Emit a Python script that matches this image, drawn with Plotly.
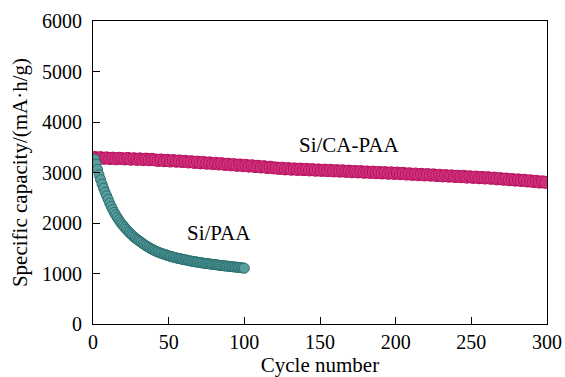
import plotly.graph_objects as go

# Si/CA-PAA: cycles 1,3,...,299
ca_cycles = list(range(1, 300, 2))
ca_capacity = [
    3300, 3285, 3295, 3280, 3290, 3275, 3285, 3270, 3282, 3276,
    3268, 3280, 3262, 3274, 3258, 3270, 3255, 3266, 3252, 3262,
    3250, 3238, 3248, 3232, 3242, 3226, 3238, 3222, 3230, 3216,
    3222, 3208, 3215, 3198, 3206, 3190, 3200, 3182, 3192, 3176,
    3184, 3168, 3176, 3158, 3166, 3150, 3158, 3140, 3150, 3134,
    3142, 3126, 3134, 3116, 3124, 3108, 3116, 3098, 3106, 3092,
    3090, 3080, 3086, 3070, 3078, 3064, 3072, 3060, 3068, 3056,
    3064, 3050, 3058, 3044, 3052, 3040, 3048, 3036, 3044, 3030,
    3038, 3026, 3034, 3020, 3028, 3014, 3022, 3010, 3018, 3004,
    3012, 3000, 3008, 2994, 3002, 2990, 2998, 2984, 2994, 2980,
    2990, 2976, 2984, 2968, 2976, 2962, 2970, 2956, 2964, 2950,
    2960, 2946, 2954, 2938, 2946, 2932, 2940, 2926, 2934, 2920,
    2928, 2916, 2924, 2908, 2916, 2902, 2910, 2896, 2904, 2890,
    2898, 2884, 2890, 2874, 2880, 2866, 2872, 2856, 2862, 2848,
    2854, 2840, 2846, 2830, 2836, 2820, 2826, 2810, 2816, 2804,
]

# Si/PAA: cycles 1..100
paa_cycles = list(range(1, 101))
paa_capacity = [
    3260, 3170, 3060, 2955, 2860, 2770, 2690, 2610, 2540, 2470,
    2395, 2330, 2270, 2210, 2160, 2110, 2065, 2020, 1980, 1945,
    1910, 1875, 1840, 1810, 1780, 1752, 1725, 1700, 1678, 1655,
    1635, 1615, 1590, 1570, 1550, 1530, 1515, 1495, 1480, 1465,
    1450, 1435, 1425, 1410, 1400, 1390, 1380, 1370, 1360, 1350,
    1340, 1335, 1325, 1315, 1310, 1300, 1295, 1290, 1280, 1275,
    1270, 1265, 1255, 1250, 1245, 1240, 1235, 1230, 1225, 1220,
    1215, 1210, 1205, 1200, 1200, 1195, 1190, 1185, 1180, 1178,
    1175, 1170, 1165, 1160, 1158, 1155, 1150, 1148, 1145, 1140,
    1138, 1135, 1130, 1128, 1125, 1120, 1118, 1115, 1110, 1105,
]

x_ticks = [0, 50, 100, 150, 200, 250, 300]
y_ticks = [0, 1000, 2000, 3000, 4000, 5000, 6000]

FONT = "Liberation Serif, Times New Roman, serif"

fig = go.Figure()
fig.add_trace(go.Scatter(
    x=ca_cycles, y=ca_capacity, mode="markers", name="Si/CA-PAA",
    marker=dict(size=12, color="#d0337c", line=dict(color="#b80f5c", width=1)),
))
fig.add_trace(go.Scatter(
    x=paa_cycles, y=paa_capacity, mode="markers", name="Si/PAA",
    marker=dict(size=10, color="#5a9e9e", line=dict(color="#2a7070", width=1)),
))

fig.add_annotation(x=169, y=3542, text="Si/CA-PAA", showarrow=False,
                   font=dict(family=FONT, size=21, color="black"))
fig.add_annotation(x=83.4, y=1796, text="Si/PAA", showarrow=False,
                   font=dict(family=FONT, size=21, color="black"))

axis_common = dict(
    showline=True, mirror=True, linecolor="black", linewidth=1.2,
    ticks="inside", ticklen=7, tickwidth=1.2, tickcolor="black",
    showgrid=False, zeroline=False, automargin=False,
    tickfont=dict(family=FONT, size=20, color="black"),
)

fig.update_xaxes(range=[0, 300], tickvals=x_ticks, ticktext=[str(v) for v in x_ticks],
                 title=dict(text="Cycle number", font=dict(family=FONT, size=21, color="black"),
                            standoff=4),
                 **axis_common)
fig.update_yaxes(range=[0, 6000], tickvals=y_ticks, ticktext=[str(v) for v in y_ticks],
                 title=dict(text="Specific capacity/(mA·h/g)",
                            font=dict(family=FONT, size=21, color="black"), standoff=8),
                 ticklabelstandoff=6,
                 **axis_common)

fig.update_layout(
    width=565, height=377,
    margin=dict(l=93, r=18, t=21, b=53),
    plot_bgcolor="white", paper_bgcolor="white",
    showlegend=False,
    font=dict(family=FONT, color="black"),
)

fig.write_html("out.html", config={"displayModeBar": False},
               post_script="document.body.style.margin='0';")
